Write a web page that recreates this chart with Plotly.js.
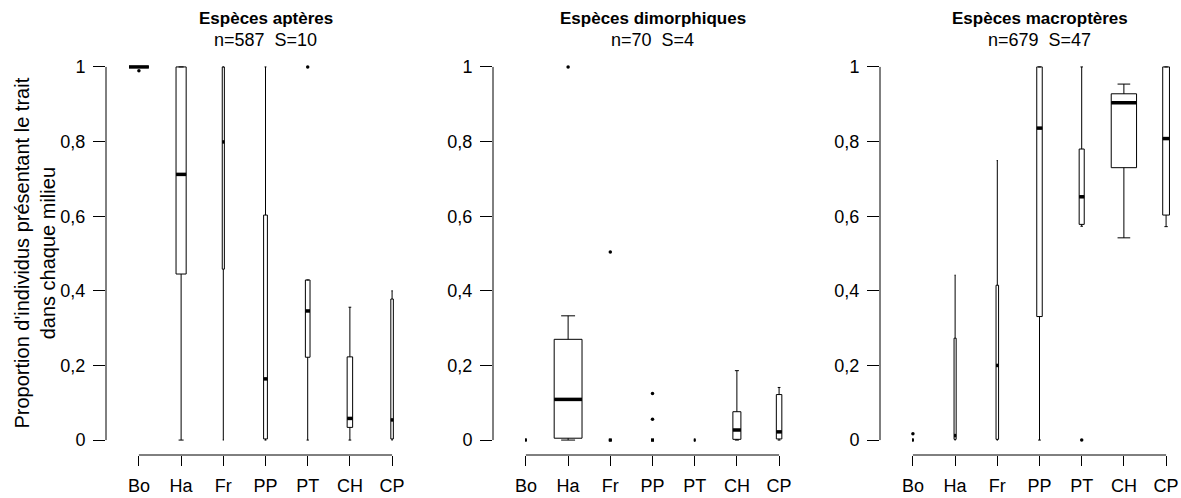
<!DOCTYPE html>
<html>
<head>
<meta charset="utf-8">
<script src="https://cdn.plot.ly/plotly-3.0.1.min.js"></script>
<style>html,body{margin:0;padding:0;background:#fff;}#chart{width:1181px;height:498px;}</style>
</head>
<body>
<div id="chart"></div>
<script>
// ---------------- DATA ----------------
const categories = ["Bo", "Ha", "Fr", "PP", "PT", "CH", "CP"];
const panelTitles = ["Espèces aptères", "Espèces dimorphiques", "Espèces macroptères"];
const panelSubtitles = ["n=587  S=10", "n=70  S=4", "n=679  S=47"];
const yTickValues = [0, 0.2, 0.4, 0.6, 0.8, 1];
const yTickLabels = ["0", "0,2", "0,4", "0,6", "0,8", "1"];
const yAxisTitle = "Proportion d'individus présentant le trait<br>dans chaque milieu";

// Espèces aptères
const aptLow    = [1,     0,     0,     0,     0,     0,     0];
const aptQ1     = [1,     0.445, 0.458, 0.003, 0.222, 0.034, 0.003];
const aptMedian = [1,     0.712, 0.799, 0.164, 0.346, 0.058, 0.054];
const aptQ3     = [1,     1,     1,     0.603, 0.429, 0.223, 0.378];
const aptHigh   = [1,     1,     1,     1,     0.429, 0.356, 0.400];
const aptOutX   = ["Bo", "PT"];
const aptOutY   = [0.99, 1.0];

// Espèces dimorphiques
const dimLow    = [0,     0,     0,     0,     0,     0,     0];
const dimQ1     = [0,     0.005, 0,     0,     0,     0.002, 0.003];
const dimMedian = [0,     0.109, 0,     0,     0,     0.027, 0.022];
const dimQ3     = [0,     0.270, 0,     0,     0,     0.076, 0.122];
const dimHigh   = [0,     0.333, 0,     0,     0,     0.186, 0.141];
const dimOutX   = ["Ha", "Fr", "PP", "PP"];
const dimOutY   = [1.0, 0.504, 0.125, 0.056];

// Espèces macroptères
const macLow    = [0,     0,     0,     0,     0.573, 0.542, 0.572];
const macQ1     = [0,     0.002, 0.002, 0.331, 0.578, 0.730, 0.603];
const macMedian = [0,     0.012, 0.200, 0.836, 0.652, 0.904, 0.808];
const macQ3     = [0,     0.273, 0.415, 1,     0.780, 0.928, 1];
const macHigh   = [0,     0.442, 0.749, 1,     1,     0.954, 1];
const macOutX   = ["Bo", "PT"];
const macOutY   = [0.017, 0];

// ---------------- STYLE ----------------
// relative box widths (varwidth style, in category units)
const aptWidths = [0.47, 0.24, 0.05, 0.09, 0.11, 0.13, 0.06];
const dimWidths = [0.04, 0.66, 0.07, 0.07, 0.04, 0.19, 0.13];
const macWidths = [0.04, 0.05, 0.06, 0.13, 0.12, 0.60, 0.16];

const W = 1181, H = 498;
const FONT = "Liberation Sans, Arial, sans-serif";
const panels = [
  {low: aptLow, q1: aptQ1, med: aptMedian, q3: aptQ3, high: aptHigh, ox: aptOutX, oy: aptOutY, w: aptWidths, left: 106, right: 425},
  {low: dimLow, q1: dimQ1, med: dimMedian, q3: dimQ3, high: dimHigh, ox: dimOutX, oy: dimOutY, w: dimWidths, left: 493, right: 812},
  {low: macLow, q1: macQ1, med: macMedian, q3: macQ3, high: macHigh, ox: macOutX, oy: macOutY, w: macWidths, left: 880, right: 1199}
];
const plotTop = 52, plotBottom = 455;
const xr0 = 0.22, xr1 = 7.78;

const traces = [];
const shapes = [];
const annotations = [];
const layout = {
  width: W, height: H,
  margin: {l: 0, r: 0, t: 0, b: 0},
  paper_bgcolor: "#fff", plot_bgcolor: "#fff",
  showlegend: false,
  font: {family: FONT, color: "#000", size: 18},
  shapes: shapes, annotations: annotations
};

panels.forEach((p, k) => {
  const sfx = k === 0 ? "" : String(k + 1);
  const xa = "x" + sfx, ya = "y" + sfx;
  const pxPerUnit = (p.right - p.left) / (xr1 - xr0);
  const visRight = Math.min(p.right, W);
  const xMax = xr0 + (visRight - p.left) / pxPerUnit;

  layout["xaxis" + sfx] = {
    domain: [p.left / W, visRight / W],
    range: [xr0, xMax],
    anchor: ya,
    tickmode: "array",
    tickvals: categories.map((c, i) => i + 1),
    ticktext: categories,
    ticks: "outside", ticklen: 10, tickwidth: 1, tickcolor: "#000",
    ticklabelstandoff: 4,
    showgrid: false, zeroline: false, showline: false,
    tickfont: {family: FONT, size: 18, color: "#000"},
    fixedrange: true
  };
  layout["yaxis" + sfx] = {
    domain: [(H - plotBottom) / H, (H - plotTop) / H],
    range: [-0.04, 1.04],
    anchor: xa,
    tickmode: "array",
    tickvals: yTickValues,
    ticktext: yTickLabels,
    ticks: "outside", ticklen: 12, tickwidth: 1, tickcolor: "#000",
    ticklabelstandoff: 4,
    showgrid: false, zeroline: false, showline: false,
    tickfont: {family: FONT, size: 18, color: "#000"},
    fixedrange: true
  };

  // axis lines (R style: from first to last tick)
  shapes.push({type: "line", xref: xa + " domain", yref: ya, x0: 0, x1: 0,
    y0: yTickValues[0], y1: yTickValues[yTickValues.length - 1], line: {color: "#000", width: 1}});
  shapes.push({type: "line", xref: xa, yref: ya + " domain", x0: 1, x1: categories.length,
    y0: 0, y1: 0, line: {color: "#000", width: 1}});

  // boxes
  categories.forEach((c, i) => {
    traces.push({
      type: "box", xaxis: xa, yaxis: ya,
      x: [i + 1],
      q1: [p.q1[i]], median: [p.med[i]], q3: [p.q3[i]],
      lowerfence: [p.low[i]], upperfence: [p.high[i]],
      width: p.w[i],
      whiskerwidth: 0.5,
      boxpoints: false,
      fillcolor: "rgba(255,255,255,0)",
      line: {color: "#000", width: 1},
      hoverinfo: "skip"
    });
  });

  // thick medians
  const mx = [], my = [];
  categories.forEach((c, i) => {
    mx.push(i + 1 - p.w[i] / 2, i + 1 + p.w[i] / 2, null);
    my.push(p.med[i], p.med[i], null);
  });
  traces.push({type: "scatter", mode: "lines", xaxis: xa, yaxis: ya, x: mx, y: my,
    line: {color: "#000", width: 3.5}, hoverinfo: "skip"});

  // outliers
  traces.push({type: "scatter", mode: "markers", xaxis: xa, yaxis: ya,
    x: p.ox.map(c => categories.indexOf(c) + 1), y: p.oy,
    marker: {color: "#000", size: 3.5, symbol: "circle"}, hoverinfo: "skip"});

  // titles
  annotations.push({xref: xa, yref: "paper", x: (xr0 + xr1) / 2, y: (H - 18) / H,
    xanchor: "center", yanchor: "middle", showarrow: false,
    text: "<b>" + panelTitles[k] + "</b>", font: {family: FONT, size: 17, color: "#000"}});
  annotations.push({xref: xa, yref: "paper", x: (xr0 + xr1) / 2, y: (H - 40) / H,
    xanchor: "center", yanchor: "middle", showarrow: false,
    text: panelSubtitles[k], font: {family: FONT, size: 18, color: "#000"}});
});

annotations.push({xref: "paper", yref: "paper", x: 34 / W, y: (H - (plotTop + plotBottom) / 2) / H,
  xanchor: "center", yanchor: "middle", showarrow: false, textangle: -90,
  text: yAxisTitle, font: {family: FONT, size: 20, color: "#000"}});

Plotly.newPlot("chart", traces, layout, {staticPlot: true, displayModeBar: false});
</script>
</body>
</html>
